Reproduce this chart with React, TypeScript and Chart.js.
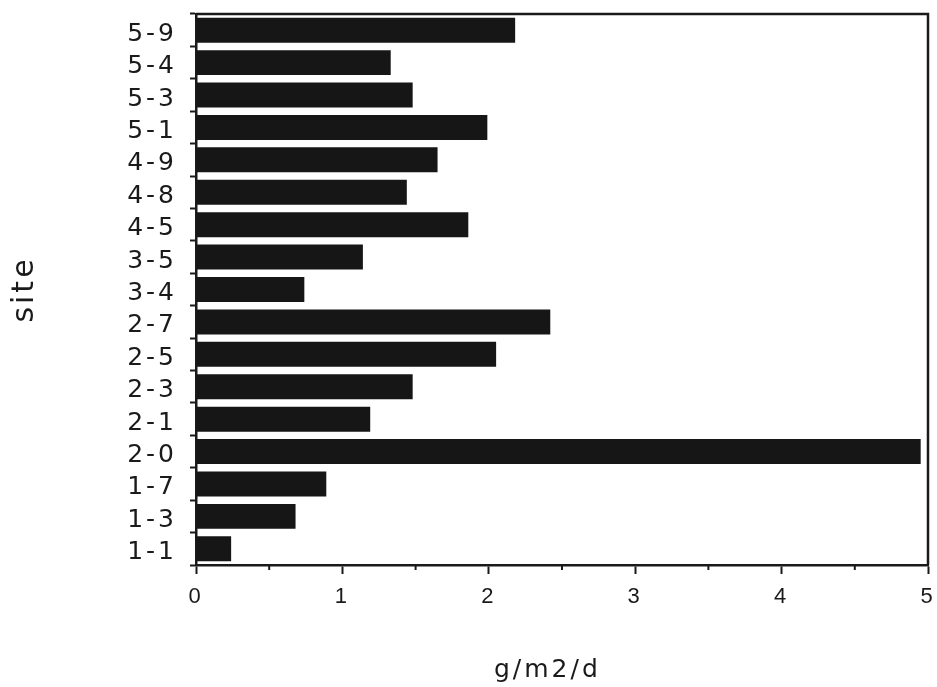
import React, { useEffect, useRef } from "react";
import { Chart, registerables } from "chart.js";

Chart.register(...registerables);

const sites = ["5-9", "5-4", "5-3", "5-1", "4-9", "4-8", "4-5", "3-5", "3-4", "2-7", "2-5", "2-3", "2-1", "2-0", "1-7", "1-3", "1-1"];
const values = [2.18, 1.33, 1.48, 1.99, 1.65, 1.44, 1.86, 1.14, 0.74, 2.42, 2.05, 1.48, 1.19, 4.95, 0.89, 0.68, 0.24];
const xTicks = [0, 1, 2, 3, 4, 5];
const xMinorTicks = [0.5, 1.5, 2.5, 3.5, 4.5];
const xTitle = "g/m2/d";
const yTitle = "site";

const FONT = "'Liberation Sans', Arial, Helvetica, sans-serif";
const WIDE = "'DejaVu Sans', Verdana, sans-serif";
const INK = "#1a1a1a";

const framePlugin = {
  id: "frame",
  beforeDraw(chart: any) {
    try {
      chart.ctx.letterSpacing = "3px";
    } catch (e) {}
  },
  afterDraw(chart: any) {
    const { ctx, chartArea } = chart;
    const x = chart.scales.x;
    ctx.save();
    ctx.strokeStyle = INK;
    ctx.lineWidth = 2.5;
    ctx.beginPath();
    ctx.moveTo(chartArea.left, chartArea.top);
    ctx.lineTo(chartArea.right, chartArea.top);
    ctx.lineTo(chartArea.right, chartArea.bottom);
    ctx.stroke();
    ctx.lineWidth = 2;
    ctx.beginPath();
    for (const v of xMinorTicks) {
      const px = x.getPixelForValue(v);
      ctx.moveTo(px, chartArea.bottom);
      ctx.lineTo(px, chartArea.bottom + 5);
    }
    ctx.stroke();
    // x axis title
    ctx.fillStyle = INK;
    ctx.font = `25px ${WIDE}`;
    try {
      ctx.letterSpacing = "3px";
    } catch (e) {}
    ctx.textAlign = "center";
    ctx.textBaseline = "alphabetic";
    const cx = chartArea.left + (chartArea.right - chartArea.left) * 0.48;
    ctx.fillText(xTitle, cx, 677);
    ctx.restore();
  },
};

export default function App() {
  const ref = useRef<HTMLCanvasElement | null>(null);
  useEffect(() => {
    if (!ref.current) return;
    const chart = new Chart(ref.current, {
      type: "bar",
      data: {
        labels: sites,
        datasets: [
          {
            data: values,
            backgroundColor: "#161616",
            borderWidth: 0,
            barPercentage: 0.77,
            categoryPercentage: 1,
          },
        ],
      },
      plugins: [framePlugin],
      options: {
        indexAxis: "y",
        responsive: false,
        animation: false,
        layout: { padding: { top: 14, right: 9, left: 0, bottom: 0 } },
        plugins: { legend: { display: false }, tooltip: { enabled: false } },
        scales: {
          x: {
            type: "linear",
            min: 0,
            max: 5,
            afterBuildTicks(scale: any) {
              scale.ticks = xTicks.map((v) => ({ value: v }));
            },
            afterFit(scale: any) {
              scale.height = 687 - 565;
              scale.paddingLeft = 0;
              scale.paddingRight = 0;
            },
            ticks: {
              font: { family: FONT, size: 22 },
              color: INK,
              padding: 10,
            },
            grid: {
              drawOnChartArea: false,
              drawTicks: true,
              tickLength: 9,
              tickWidth: 2,
              tickColor: INK,
            },
            border: { display: true, color: INK, width: 2.5 },
          },
          y: {
            type: "category",
            afterFit(scale: any) {
              scale.width = 196;
              scale.paddingTop = 0;
              scale.paddingBottom = 0;
            },
            ticks: {
              font: { family: WIDE, size: 25 },
              color: INK,
              padding: 13,
              labelOffset: 4,
              autoSkip: false,
            },
            grid: {
              offset: true,
              drawOnChartArea: false,
              drawTicks: true,
              tickLength: 6,
              tickWidth: 2,
              tickColor: INK,
            },
            border: { display: true, color: INK, width: 2.5 },
            title: {
              display: true,
              text: yTitle,
              color: INK,
              font: { family: WIDE, size: 30 },
              padding: { top: 7, bottom: 0 },
            },
          },
        },
      },
    });
    return () => chart.destroy();
  }, []);
  return (
    <div style={{ position: "fixed", left: 0, top: 0, width: 937, height: 687, background: "#fff" }}>
      <canvas ref={ref} width={937} height={687} />
    </div>
  );
}
